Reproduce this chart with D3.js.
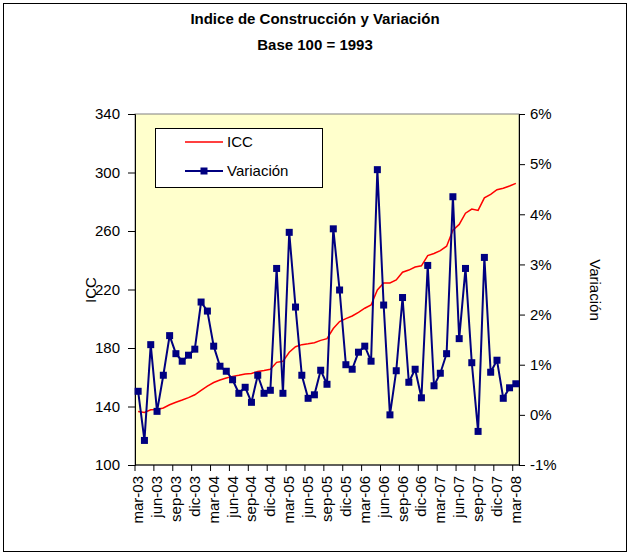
<!DOCTYPE html>
<html><head><meta charset="utf-8">
<script src="https://cdn.jsdelivr.net/npm/d3@7"></script>
<style>
body{margin:0;background:#fff;}
svg{display:block;font-family:"Liberation Sans",Arial,sans-serif;}
</style></head>
<body>
<svg id="c" width="630" height="555"></svg>
<script>
const categories = [
 'mar-03','abr-03','may-03','jun-03','jul-03','ago-03','sep-03','oct-03','nov-03','dic-03','ene-04','feb-04',
 'mar-04','abr-04','may-04','jun-04','jul-04','ago-04','sep-04','oct-04','nov-04','dic-04','ene-05','feb-05',
 'mar-05','abr-05','may-05','jun-05','jul-05','ago-05','sep-05','oct-05','nov-05','dic-05','ene-06','feb-06',
 'mar-06','abr-06','may-06','jun-06','jul-06','ago-06','sep-06','oct-06','nov-06','dic-06','ene-07','feb-07',
 'mar-07','abr-07','may-07','jun-07','jul-07','ago-07','sep-07','oct-07','nov-07','dic-07','ene-08','feb-08',
 'mar-08'];
const icc = [
 136.6,135.9,137.8,137.9,139.0,141.2,142.9,144.4,146.1,148.0,151.0,154.0,
 156.4,158.1,159.5,160.6,161.3,162.2,162.6,163.9,164.6,165.4,170.2,170.9,
 177.1,180.9,182.3,182.9,183.6,185.2,186.4,193.3,198.1,200.1,201.9,204.4,
 207.2,209.4,219.7,224.5,224.5,226.5,231.8,233.3,235.4,236.2,243.2,244.6,
 246.6,249.6,260.5,264.5,272.2,275.0,274.1,282.7,285.1,288.2,289.2,290.8,
 292.6];
const variacion = [
 0.47,-0.51,1.40,0.07,0.79,1.58,1.22,1.07,1.19,1.31,2.25,2.07,
 1.37,0.97,0.87,0.70,0.43,0.55,0.25,0.79,0.43,0.49,2.92,0.43,
 3.64,2.15,0.79,0.33,0.40,0.89,0.61,3.71,2.49,1.00,0.91,1.25,
 1.37,1.07,4.89,2.19,0.00,0.88,2.34,0.65,0.91,0.34,2.98,0.58,
 0.83,1.22,4.35,1.52,2.92,1.04,-0.33,3.14,0.85,1.09,0.33,0.54,
 0.62];
const leftTicks = [100,140,180,220,260,300,340];
const rightTicks = [-1,0,1,2,3,4,5,6];
const xTickLabels = ['mar-03','jun-03','sep-03','dic-03','mar-04','jun-04','sep-04','dic-04','mar-05','jun-05',
 'sep-05','dic-05','mar-06','jun-06','sep-06','dic-06','mar-07','jun-07','sep-07','dic-07','mar-08'];
const titleLines = ['Indice de Construcción y Variación','Base 100 = 1993'];

const svg = d3.select('#c');
const L=135,R=519,T=114,B=465;
const x = d3.scaleBand().domain(categories).range([L,R]).padding(0);
const cx = c => x(c)+x.bandwidth()/2;
const yL = d3.scaleLinear().domain([100,340]).range([B,T]);
const yR = d3.scaleLinear().domain([-1,6]).range([B,T]);

// outer frame
svg.append('rect').attr('x',3.5).attr('y',3.5).attr('width',623).attr('height',548)
  .attr('fill','#fff').attr('stroke','#000').attr('stroke-width',1);

// title
svg.selectAll('text.title').data(titleLines).enter().append('text')
  .attr('class','title').attr('x',315).attr('y',(d,i)=>24+i*26)
  .attr('text-anchor','middle').attr('font-size',15).attr('font-weight','bold').text(d=>d);

// plot area
svg.append('rect').attr('x',L).attr('y',T).attr('width',R-L).attr('height',B-T)
  .attr('fill','#FFFFCC').attr('stroke','#808080').attr('stroke-width',1);

// axes
const fs = 15;
const gL = svg.append('g').attr('transform',`translate(${L},0)`)
  .call(d3.axisLeft(yL).tickValues(leftTicks).tickSize(7).tickPadding(8).tickFormat(d3.format('d')));
const gR = svg.append('g').attr('transform',`translate(${R},0)`)
  .call(d3.axisRight(yR).tickValues(rightTicks).tickSize(6).tickPadding(5).tickFormat(d=>d+'%'));
[gL,gR].forEach(g=>{
  g.select('.domain').attr('stroke','#000');
  g.selectAll('line').attr('stroke','#000');
  g.selectAll('text').attr('font-size',fs).attr('font-family','"Liberation Sans",Arial,sans-serif').attr('fill','#000');
});

// x axis
const xg = svg.append('g');
xg.append('line').attr('x1',L).attr('x2',R).attr('y1',B).attr('y2',B).attr('stroke','#000');
const tickIdx = xTickLabels.map(l=>categories.indexOf(l));
xg.selectAll('line.t').data(tickIdx).enter().append('line').attr('class','t')
  .attr('x1',i=>x(categories[i])).attr('x2',i=>x(categories[i]))
  .attr('y1',B).attr('y2',B+6).attr('stroke','#000');
xg.selectAll('text').data(xTickLabels).enter().append('text')
  .attr('transform',d=>`translate(${cx(d)+5},${B+11}) rotate(-90)`)
  .attr('text-anchor','end').attr('font-size',fs).text(d=>d);

// axis titles
svg.append('text').attr('transform','translate(96,290) rotate(-90)').attr('text-anchor','middle')
  .attr('font-size',fs).text('ICC');
svg.append('text').attr('transform','translate(590,290) rotate(90)').attr('text-anchor','middle')
  .attr('font-size',fs).text('Variación');

// ICC line
svg.append('path').datum(icc)
  .attr('d',d3.line().x((d,i)=>cx(categories[i])).y(d=>yL(d)))
  .attr('fill','none').attr('stroke','#FF0000').attr('stroke-width',1.5);

// Variation line + markers
svg.append('path').datum(variacion)
  .attr('d',d3.line().x((d,i)=>cx(categories[i])).y(d=>yR(d)))
  .attr('fill','none').attr('stroke','#000080').attr('stroke-width',2);
const ms=7;
svg.selectAll('rect.m').data(variacion).enter().append('rect').attr('class','m')
  .attr('x',(d,i)=>cx(categories[i])-ms/2).attr('y',d=>yR(d)-ms/2)
  .attr('width',ms).attr('height',ms).attr('fill','#000080');

// legend
const lg = svg.append('g');
lg.append('rect').attr('x',155.5).attr('y',128.5).attr('width',167).attr('height',59)
  .attr('fill','#fff').attr('stroke','#000');
lg.append('line').attr('x1',185).attr('x2',223).attr('y1',142).attr('y2',142).attr('stroke','#FF0000').attr('stroke-width',1.5);
lg.append('text').attr('x',227).attr('y',147).attr('font-size',fs).text('ICC');
lg.append('line').attr('x1',185).attr('x2',223).attr('y1',171).attr('y2',171).attr('stroke','#000080').attr('stroke-width',2);
lg.append('rect').attr('x',204-ms/2).attr('y',171-ms/2).attr('width',ms).attr('height',ms).attr('fill','#000080');
lg.append('text').attr('x',227).attr('y',176).attr('font-size',fs).text('Variación');
</script>
</body></html>
